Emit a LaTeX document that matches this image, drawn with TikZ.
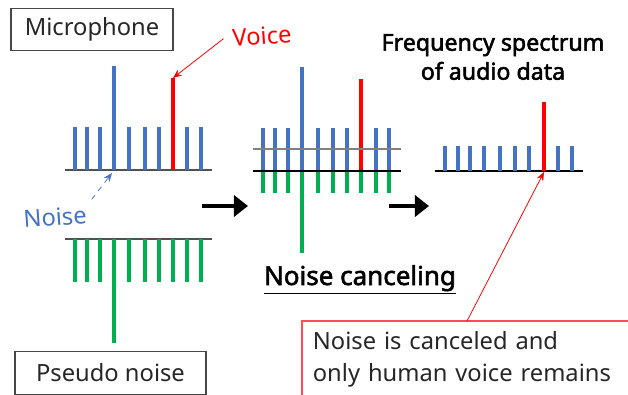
\documentclass[tikz,border=0pt]{standalone}
\usepackage{fontspec}
\setmainfont{Noto Sans}[AutoFakeBold=2.2]
\usetikzlibrary{arrows.meta, positioning}
\definecolor{barblue}{HTML}{4472C4}
\definecolor{barred}{HTML}{FF0000}
\definecolor{bargreen}{HTML}{00B050}
\definecolor{inkgray}{HTML}{262626}

\begin{document}
\begin{tikzpicture}[
    x=0.02cm, y=-0.02cm,
    tagbox/.style={rectangle, draw=inkgray!85, line width=0.6pt, minimum height=0.85cm, font=\fontsize{13.5}{16}\selectfont, text=inkgray},
    bluebar/.style={draw=barblue, line width=2.3pt},
    redbar/.style={draw=barred, line width=2.6pt},
    greenbar/.style={draw=bargreen, line width=2.3pt},
    axis/.style={draw=inkgray!80, line width=0.8pt},
    bigarrow/.style={line width=2.8pt, -{Triangle[length=8pt, width=12pt]}},
    thinarrow/.style={line width=0.45pt, -{Stealth[length=5pt, width=4pt]}},
    heading/.style={font=\bfseries\fontsize{13.2}{16.5}\selectfont, text=black, align=center}
]
\clip (0,0) rectangle (628,395);

% Labels
\node[tagbox, minimum width=3.24cm] (mic) at (92,29.5) {Microphone};
\node[tagbox, minimum width=3.82cm] (pseudo) at (110.5,373) {Pseudo noise};
\node[font=\fontsize{13.5}{16}\selectfont, text=barred, rotate=4, inner sep=5pt] (voice) at (262,36) {Voice};
\node[font=\fontsize{13.5}{16}\selectfont, text=barblue, rotate=4] (noise) at (55,217) {Noise};
\node[heading] (spectrum) at (493,57) {Frequency spectrum\\of audio data};
\node[heading, font=\bfseries\fontsize{14.8}{16}\selectfont] (cancel) at (360,280) {\underline{Noise canceling}};
\node[anchor=north west, text width=6.4cm, align=left, inner xsep=6pt, inner ysep=6pt,
      text=inkgray, font=\fontsize{13.5}{18}\selectfont] (result) at (302,321)
      {Noise is canceled and\\only human voice remains};
\draw[draw=barred!70, line width=0.6pt] (result.north west) rectangle ++(340,90);

% Microphone spectrum
\draw[axis] (65,170) -- (212,170);
\foreach \x in {75,87,100,129,145,159,187,201} \draw[bluebar] (\x,127) -- (\x,170);
\draw[bluebar] (114,66) -- (114,170);
\draw[redbar] (173,78) -- (173,170);
\coordinate (voicetop) at (173,78);
\coordinate (noisefoot) at (112,173);

% Pseudo noise spectrum
\draw[axis] (65,239) -- (212,239);
\foreach \x in {75,87,100,129,145,159,173,187,201} \draw[greenbar] (\x,239) -- (\x,282);
\draw[greenbar] (114,239) -- (114,343);

% Noise canceling
\foreach \x in {263,275,288,318,333,347,376,389} {
  \draw[bluebar] (\x,128) -- (\x,171);
  \draw[greenbar] (\x,171) -- (\x,193);
}
\draw[bluebar] (302,67) -- (302,171);
\draw[greenbar] (302,171) -- (302,253);
\draw[redbar] (361,79) -- (361,171);
\draw[greenbar] (361,171) -- (361,193);
\draw[draw=gray, line width=0.8pt] (253,149) -- (401,149);
\draw[draw=black, line width=0.7pt] (253,171) -- (401,171);

% Audio data spectrum
\draw[draw=black, line width=0.7pt] (435,171) -- (583,171);
\foreach \x in {445,458,470,484,500,515,529,558,572} \draw[bluebar] (\x,146) -- (\x,171);
\draw[redbar] (544,102) -- (544,171);
\coordinate (outfoot) at (544,172);

% Arrows
\coordinate (step1a) at (202,206);
\coordinate (step1b) at (248,206);
\coordinate (step2a) at (389,206);
\coordinate (step2b) at (429,206);
\draw[bigarrow] (step1a) -- (step1b);
\draw[bigarrow] (step2a) -- (step2b);
\draw[thinarrow, draw=barred] (voice.west) -- (voicetop);
\draw[thinarrow, draw=barblue, dashed] (noise.north east) -- (noisefoot);
\draw[thinarrow, draw=barred] (result.north west) ++(165,0) -- (outfoot);

\end{tikzpicture}
\end{document}
